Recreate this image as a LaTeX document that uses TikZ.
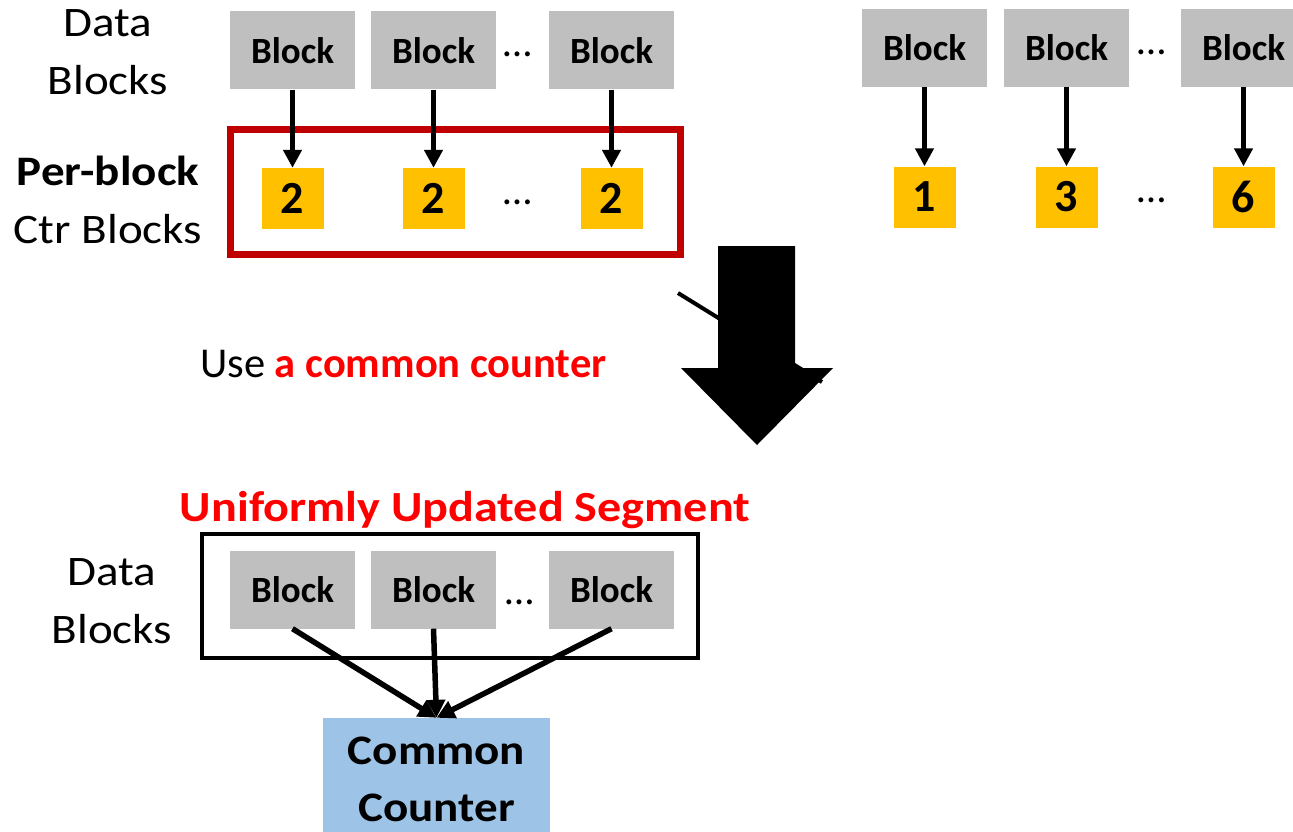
\documentclass[tikz,border=0pt]{standalone}
\usepackage{fontspec}
\setmainfont{Carlito}
\newfontfamily\widefont[FakeStretch=1.12]{Carlito}
\usetikzlibrary{arrows.meta}
\definecolor{blkgray}{HTML}{BFBFBF}
\definecolor{ctryellow}{HTML}{FFC000}
\definecolor{ccblue}{HTML}{9DC3E6}
\definecolor{boxred}{HTML}{C00000}
\definecolor{hired}{HTML}{FF0000}
\tikzset{
  blk/.style={fill=blkgray, minimum width=125pt, minimum height=78pt, inner sep=0pt, font=\fontsize{37}{44}\selectfont\bfseries},
  ctr/.style={fill=ctryellow, minimum width=62pt, minimum height=61pt, inner sep=0pt, font=\fontsize{46}{54}\selectfont\bfseries},
  cc/.style={fill=ccblue, minimum width=227pt, minimum height=122pt, inner sep=0pt, align=center, font=\widefont\fontsize{42}{57}\selectfont\bfseries},
  lbl/.style={align=center, inner sep=0pt, font=\widefont\fontsize{42}{57.5}\selectfont},
  dots/.style={inner sep=0pt, font=\fontsize{41}{49}\selectfont},
  arr/.style={line width=5.5pt, -{Triangle[length=18pt,width=18pt]}},
}
\begin{document}
\begin{tikzpicture}[x=1pt,y=-1pt]
\useasboundingbox (0,0) rectangle (1293,832);
\node[lbl] (lbltop) at (108,52) {Data\\Blocks};
\node[lbl] (lblctr) at (108,200) {\textbf{Per-block}\\Ctr Blocks};
\draw[boxred, line width=7pt] (230,129.5) rectangle (680,254);
\foreach \x/\i in {292.5/1, 433.5/2, 611.5/3} {
  \node[blk] (pb\i) at (\x,50.5) {Block};
  \node[ctr] (pc\i) at (\x,198.5) {2};
  \draw[arr] (pb\i) -- (pc\i);
}
\node[dots] (pdots1) at (518,54) {…};
\node[dots] (pdots2) at (518,202) {…};

\foreach \x/\v/\i in {924.5/1/1, 1066.5/3/2, 1243.5/6/3} {
  \node[blk] (rb\i) at (\x,48) {Block};
  \node[ctr] (rc\i) at (\x,197) {\v};
  \draw[arr] (rb\i) -- (rc\i);
}
\node[dots] (rdots1) at (1152,52) {…};
\node[dots] (rdots2) at (1152,200) {…};

\draw[line width=4pt] (678,293) -- (822,382);
\fill (718,246) -- (795,246) -- (795,368) -- (833,368) -- (757,445) -- (681,368) -- (718,368) -- cycle;
\node[anchor=base west, inner sep=0pt, font=\fontsize{42.5}{50}\selectfont] (usetxt) at (200,377) {Use \textcolor{hired}{\textbf{a common counter}}};

\node[anchor=base, inner sep=0pt, text=hired, font=\widefont\fontsize{43}{52}\selectfont\bfseries] (segtxt) at (465,521) {Uniformly Updated Segment};
\draw[line width=4pt] (202,534) rectangle (698,658);
\node[lbl] (lblbot) at (112,601) {Data\\Blocks};
\node[cc] (cc) at (436.5,779) {Common\\Counter};
\foreach \x/\i in {292.5/1, 433.5/2, 611.5/3} {
  \node[blk] (sb\i) at (\x,589.5) {Block};
  \draw[arr] (sb\i.south) -- (cc.north);
}
\node[dots] (sdots) at (520,602) {…};
\end{tikzpicture}
\end{document}
